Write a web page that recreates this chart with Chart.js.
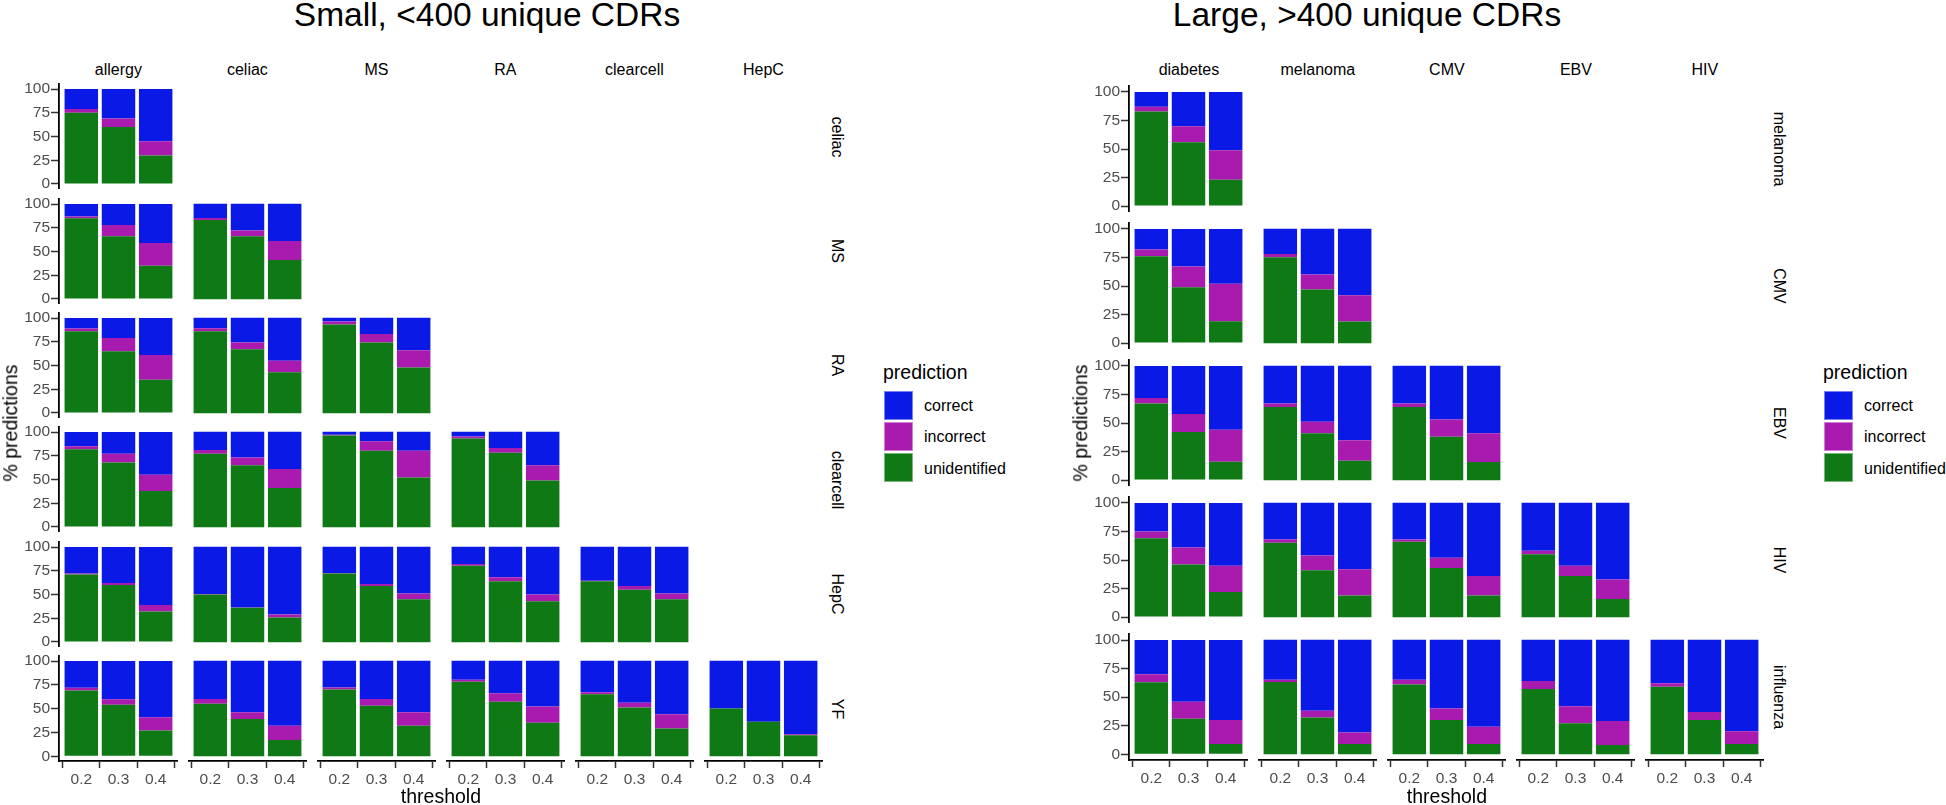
<!DOCTYPE html>
<html>
<head>
<meta charset="utf-8">
<script src="https://cdn.jsdelivr.net/npm/chart.js@4.4.1/dist/chart.umd.min.js"></script>
<style>
  body { margin:0; width:1946px; height:805px; background:#fff; position:relative; overflow:hidden;
         font-family:"Liberation Sans", Arial, sans-serif; }
  canvas { position:absolute; }
  .t { position:absolute; white-space:nowrap; line-height:1; color:#000; }
  .key { position:absolute; width:29px; height:29px; box-sizing:border-box; border:1px solid rgba(255,255,255,0.45); }
</style>
</head>
<body>
<script>
// ===== Data =====
const thresholds = ['0.2', '0.3', '0.4'];
const yTicks = [0, 25, 50, 75, 100];
const seriesNames = ['correct', 'incorrect', 'unidentified'];

// Small, <400 unique CDRs  (row facet -> list of column facets, values per threshold)
const smallCols = ['allergy', 'celiac', 'MS', 'RA', 'clearcell', 'HepC'];
const smallRows = ['celiac', 'MS', 'RA', 'clearcell', 'HepC', 'YF'];
const smallUnidentified = [
  [[75, 60, 30]],
  [[85, 66, 35], [83, 66, 41]],
  [[86, 65, 35], [86, 67, 43], [93, 74, 48]],
  [[82, 68, 38], [77, 65, 41], [96, 80, 52], [93, 78, 49]],
  [[71, 60, 32], [50, 36, 26], [72, 59, 45], [80, 64, 43], [64, 55, 45]],
  [[69, 54, 27], [55, 39, 17], [70, 53, 32], [78, 57, 35], [65, 51, 29], [50, 36, 22]]
];
const smallIncorrect = [
  [[4, 9, 15]],
  [[2, 12, 24], [2, 6, 20]],
  [[3, 14, 26], [3, 7, 12], [3, 9, 18]],
  [[3, 9, 17], [4, 8, 20], [1, 10, 28], [2, 5, 16]],
  [[1, 2, 7], [0.5, 0.5, 3], [0.5, 2, 6], [2, 4, 7], [0.5, 4, 6]],
  [[3, 6, 14], [5, 7, 15], [2, 7, 14], [2, 9, 17], [2, 5, 15], [0, 0, 1]]
];
const smallCorrect = [
  [[21, 31, 55]],
  [[13, 22, 41], [15, 28, 39]],
  [[11, 21, 39], [11, 26, 45], [4, 17, 34]],
  [[15, 23, 45], [19, 27, 39], [3, 10, 20], [5, 17, 35]],
  [[28, 38, 61], [49.5, 63.5, 71], [27.5, 39, 49], [18, 32, 50], [35.5, 41, 49]],
  [[28, 40, 59], [40, 54, 68], [28, 40, 54], [20, 34, 48], [33, 44, 56], [50, 64, 77]]
];

// Large, >400 unique CDRs
const largeCols = ['diabetes', 'melanoma', 'CMV', 'EBV', 'HIV'];
const largeRows = ['melanoma', 'CMV', 'EBV', 'HIV', 'influenza'];
const largeUnidentified = [
  [[83, 56, 23]],
  [[76, 49, 19], [75, 47, 19]],
  [[67, 42, 16], [64, 41, 17], [64, 38, 16]],
  [[69, 46, 22], [65, 41, 19], [66, 43, 19], [55, 36, 16]],
  [[63, 31, 9], [63, 32, 9], [61, 30, 9], [57, 27, 8], [59, 30, 9]]
];
const largeIncorrect = [
  [[4, 14, 26]],
  [[6, 18, 33], [3, 13, 23]],
  [[5, 16, 28], [3, 10, 18], [3, 15, 25]],
  [[6, 15, 23], [3, 13, 23], [2, 9, 17], [3, 9, 17]],
  [[7, 15, 21], [2, 6, 10], [4, 10, 15], [7, 15, 21], [3, 7, 11]]
];
const largeCorrect = [
  [[13, 30, 51]],
  [[18, 33, 48], [22, 40, 58]],
  [[28, 42, 56], [33, 49, 65], [33, 47, 59]],
  [[25, 39, 55], [32, 46, 58], [32, 48, 64], [42, 55, 67]],
  [[30, 54, 70], [35, 62, 81], [35, 60, 76], [36, 58, 71], [38, 63, 80]]
];

// ===== Styles / layout =====
const colors = { correct: '#0b19e6', incorrect: '#a91aae', unidentified: '#0f7a15' };
Chart.defaults.font.family = '"Liberation Sans", Arial, sans-serif';

const panels = [
  { title: 'Small, <400 unique CDRs', cols: smallCols, rows: smallRows,
    U: smallUnidentified, I: smallIncorrect, C: smallCorrect,
    x0: 58.7, y0: 84.2, colStep: 129, rowStep: 114.4, w: 119.4, h: 104.8,
    titleX: 487, ylabX: 10.8, stripX: 837.4, legX: 884 },
  { title: 'Large, >400 unique CDRs', cols: largeCols, rows: largeRows,
    U: largeUnidentified, I: largeIncorrect, C: largeCorrect,
    x0: 1129.2, y0: 85.9, colStep: 129, rowStep: 137.1, w: 119.4, h: 126.1,
    titleX: 1367, ylabX: 1080.5, stripX: 1779, legX: 1824 }
];

function text(str, x, y, size, opts = {}) {
  const d = document.createElement('div');
  d.className = 't';
  d.textContent = str;
  d.style.fontSize = size + 'px';
  d.style.left = x + 'px';
  d.style.top = y + 'px';
  const ax = opts.align === 'left' ? '0' : '-50%';
  d.style.transform = `translate(${ax},-50%)` + (opts.rotate ? ` rotate(${opts.rotate}deg)` : '');
  if (opts.color) d.style.color = opts.color;
  document.body.appendChild(d);
}

function makeCell(p, r, c) {
  const firstCol = c === 0;
  const lastRow  = r === p.rows.length - 1;
  const yW = firstCol ? 60 : 0;
  const xH = lastRow ? 26 : 0;
  const padT = 10, padB = lastRow ? 0 : 10;
  const px = p.x0 + c * p.colStep;
  const py = p.y0 + r * p.rowStep;
  const left = Math.round(px) - yW;
  const top  = Math.round(py) - padT;
  const width  = yW + Math.round(p.w);
  const height = padT + Math.round(p.h) + (lastRow ? xH : padB);

  const cv = document.createElement('canvas');
  cv.width = width; cv.height = height;
  cv.style.left = left + 'px'; cv.style.top = top + 'px';
  cv.style.width = width + 'px'; cv.style.height = height + 'px';
  document.body.appendChild(cv);

  const pts = arr => arr.map((v, i) => ({ x: i + 1, y: v }));
  const tickFont = { size: 15.5 };

  new Chart(cv, {
    type: 'bar',
    data: {
      datasets: [
        { label: 'unidentified', data: pts(p.U[r][c]), backgroundColor: colors.unidentified },
        { label: 'incorrect',    data: pts(p.I[r][c]), backgroundColor: colors.incorrect },
        { label: 'correct',      data: pts(p.C[r][c]), backgroundColor: colors.correct }
      ]
    },
    options: {
      responsive: false,
      animation: false,
      devicePixelRatio: 1,
      layout: { padding: { top: padT, bottom: padB, left: 0, right: 0 } },
      plugins: { legend: { display: false }, tooltip: { enabled: false } },
      datasets: { bar: { categoryPercentage: 1, barPercentage: 0.9, borderWidth: 0 } },
      scales: {
        x: {
          type: 'linear', min: 0.4, max: 3.6, stacked: true, offset: false, display: lastRow,
          afterBuildTicks: s => { s.ticks = thresholds.map((t, i) => ({ value: i + 1 })); },
          afterFit: s => { s.height = xH; },
          grid: { drawOnChartArea: false, tickLength: 7, tickColor: '#333', tickWidth: 1.5 },
          border: { color: '#000', width: 1.8 },
          ticks: { callback: v => thresholds[Math.round(v) - 1], font: tickFont, color: '#4d4d4d',
                   padding: 2, maxRotation: 0, autoSkip: false }
        },
        y: {
          type: 'linear', min: -5, max: 105, stacked: true, display: firstCol,
          afterBuildTicks: s => { s.ticks = yTicks.map(v => ({ value: v })); },
          afterFit: s => { s.width = yW; },
          grid: { drawOnChartArea: false, tickLength: 8, tickColor: '#333', tickWidth: 1.5 },
          border: { color: '#000', width: 1.8 },
          ticks: { font: tickFont, color: '#4d4d4d', padding: 1, autoSkip: false }
        }
      }
    }
  });
}

panels.forEach(p => {
  // titles
  text(p.title, p.titleX, 15.1, 33.5);
  // column strips
  p.cols.forEach((name, c) => text(name, p.x0 + c * p.colStep + p.w / 2, 69.5, 16));
  // row strips
  p.rows.forEach((name, r) => text(name, p.stripX, p.y0 + r * p.rowStep + p.h / 2, 16, { rotate: 90 }));
  // cells
  p.rows.forEach((name, r) => { for (let c = 0; c <= r; c++) makeCell(p, r, c); });
  // axis titles
  const nCols = p.cols.length;
  const plotL = p.x0, plotR = p.x0 + (nCols - 1) * p.colStep + p.w;
  const plotT = p.y0, plotB = p.y0 + (p.rows.length - 1) * p.rowStep + p.h;
  text('threshold', (plotL + plotR) / 2, 797.2, 19.5);
  text('% predictions', p.ylabX, (plotT + plotB) / 2, 19.5, { rotate: -90 });
  // legend
  text('prediction', p.legX - 1, 372.5, 19.5, { align: 'left' });
  seriesNames.forEach((s, i) => {
    const k = document.createElement('div');
    k.className = 'key';
    k.style.left = p.legX + 'px';
    k.style.top = (391 + i * 31.2) + 'px';
    k.style.background = colors[s];
    document.body.appendChild(k);
    text(s, p.legX + 40, 406.2 + i * 31.2, 16, { align: 'left' });
  });
});
</script>
</body>
</html>
